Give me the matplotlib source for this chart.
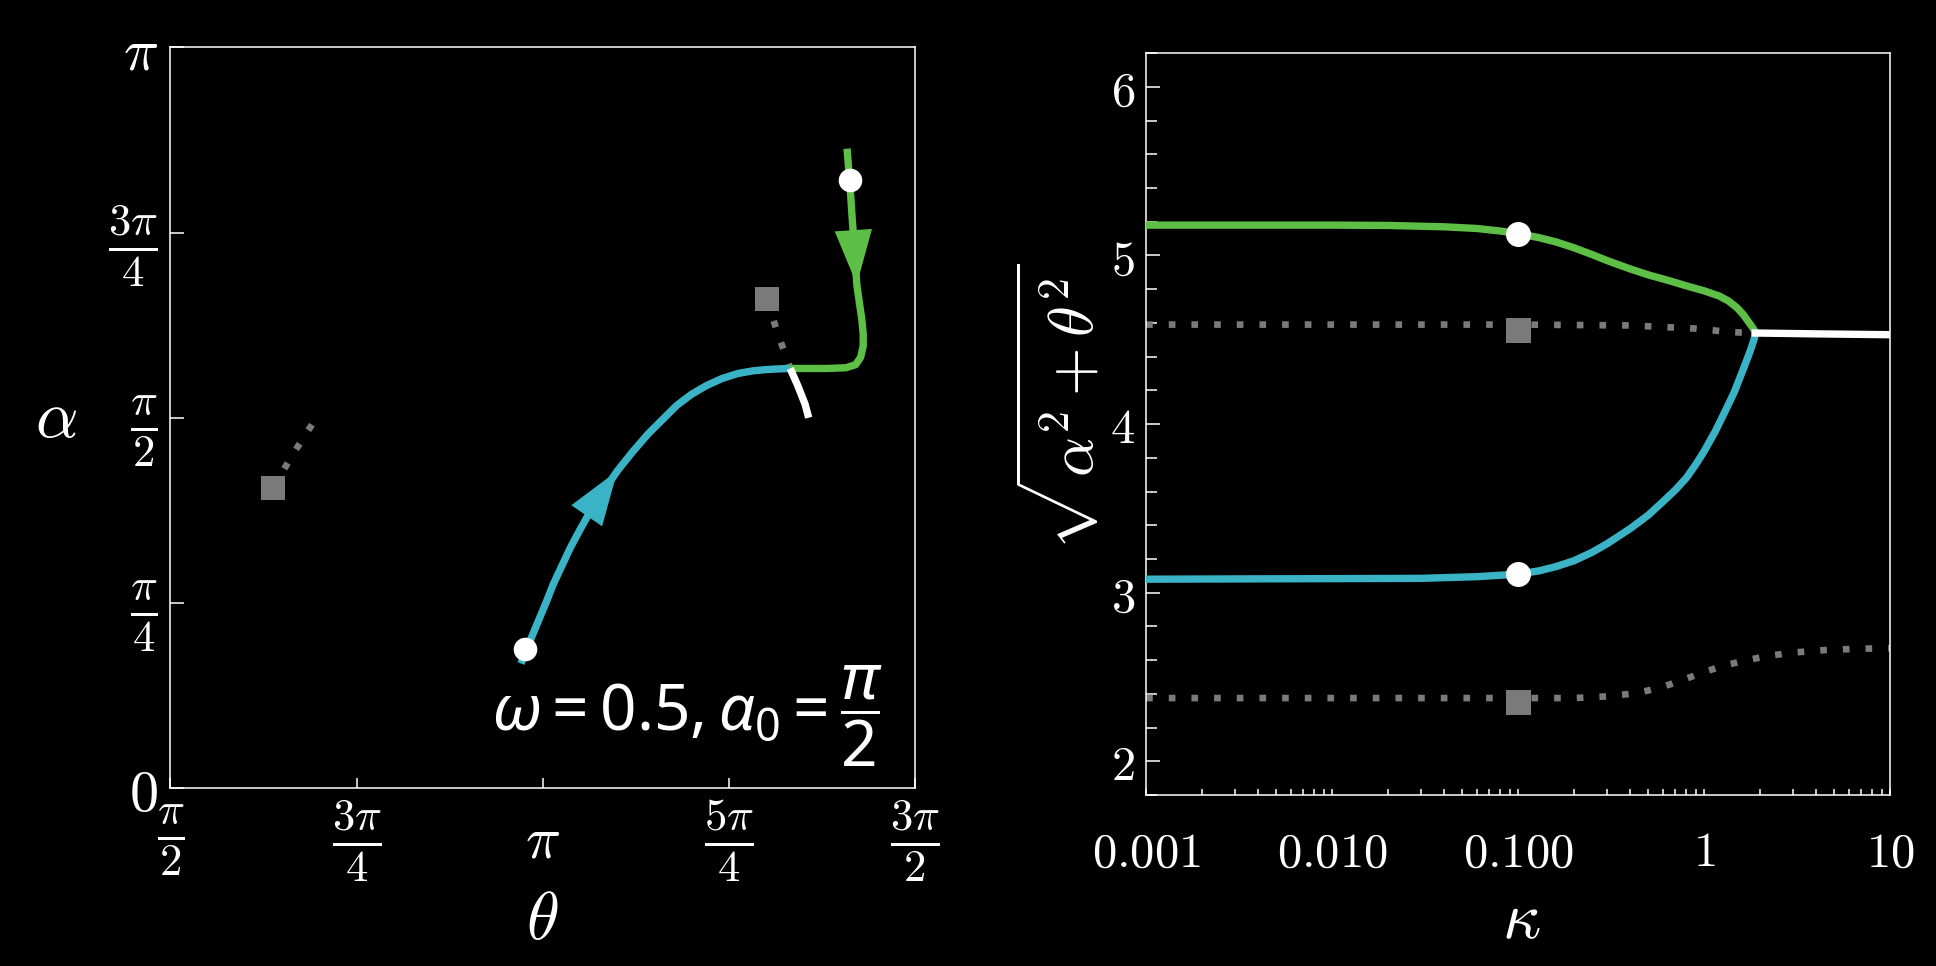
import numpy as np
import matplotlib
matplotlib.use("Agg")
import matplotlib.pyplot as plt
from matplotlib.ticker import FixedLocator, NullFormatter, LogLocator, MultipleLocator

plt.rcParams['mathtext.fontset'] = 'cm'
# used only by the annotation (math_fontfamily='custom')
plt.rcParams['mathtext.rm'] = 'Noto Sans'
plt.rcParams['mathtext.it'] = 'Noto Sans:italic'
plt.rcParams['mathtext.bf'] = 'Noto Sans:bold'

CYAN = '#3ab3c6'
GREEN = '#5dbf45'
GRAY = '#7a7a7a'
FG = 'white'

# ---- left panel: trajectories in (theta, alpha) ----
theta_cyan = [3.050, 3.077, 3.103, 3.129, 3.155, 3.186, 3.222, 3.259, 3.301, 3.342, 3.389, 3.457,
              3.519, 3.587, 3.650, 3.707, 3.769, 3.832, 3.900, 3.967, 4.030, 4.082, 4.134, 4.186]
alpha_cyan = [0.529, 0.597, 0.660, 0.723, 0.785, 0.864, 0.942, 1.021, 1.100, 1.173, 1.246, 1.346,
              1.424, 1.503, 1.566, 1.623, 1.670, 1.707, 1.738, 1.759, 1.770, 1.775, 1.778, 1.780]

theta_green = [4.426, 4.436, 4.442, 4.447, 4.452, 4.457, 4.462, 4.467, 4.478, 4.488, 4.494, 4.494,
               4.483, 4.462, 4.421, 4.343, 4.264, 4.186]
alpha_green = [2.712, 2.581, 2.503, 2.424, 2.356, 2.293, 2.215, 2.136, 2.058, 1.990, 1.927, 1.874,
               1.827, 1.796, 1.783, 1.780, 1.780, 1.780]

theta_white = [4.186, 4.218, 4.249, 4.264]
alpha_white = [1.780, 1.707, 1.628, 1.571]

theta_unst1 = [2.003, 2.090, 2.180]
alpha_unst1 = [1.272, 1.420, 1.560]
theta_unst2 = [4.087, 4.134, 4.166, 4.186]
alpha_unst2 = [2.073, 1.927, 1.838, 1.780]

theta_start = [3.066, 4.437]
alpha_start = [0.592, 2.581]
theta_sq = [2.003, 4.087]
alpha_sq = [1.272, 2.073]

cyan_arrow_idx = 11
green_arrow_idx = 7

# ---- right panel: amplitude vs kappa ----
k_green = [0.001, 0.01, 0.02, 0.04, 0.06, 0.08, 0.1, 0.13, 0.16, 0.2, 0.25, 0.3, 0.4, 0.5,
           0.65, 0.8, 1.0, 1.2, 1.35, 1.5, 1.62, 1.72, 1.8, 1.86, 1.88]
r_green = [5.18, 5.18, 5.178, 5.17, 5.16, 5.145, 5.13, 5.105, 5.08, 5.045, 5.005, 4.97, 4.92, 4.885,
           4.85, 4.82, 4.79, 4.76, 4.73, 4.69, 4.65, 4.61, 4.58, 4.555, 4.54]

k_cyan = [0.001, 0.03, 0.06, 0.1, 0.13, 0.16, 0.2, 0.25, 0.3, 0.4, 0.5, 0.6, 0.7, 0.8, 0.9,
          1.0, 1.15, 1.3, 1.45, 1.6, 1.72, 1.8, 1.86, 1.88]
r_cyan = [3.08, 3.085, 3.095, 3.11, 3.13, 3.155, 3.19, 3.24, 3.29, 3.38, 3.46, 3.54, 3.61, 3.68, 3.76,
          3.84, 3.96, 4.08, 4.19, 4.31, 4.40, 4.46, 4.51, 4.54]

k_white = [1.88, 4.0, 10.0]
r_white = [4.54, 4.535, 4.53]

k_upper = [0.001, 0.1, 0.4, 0.88, 1.4, 1.88]
r_upper = [4.59, 4.59, 4.585, 4.567, 4.545, 4.54]

k_lower = [0.001, 0.2, 0.3, 0.4, 0.5, 0.65, 0.8, 1.0, 1.3, 1.7, 2.2, 3.0, 4.5, 7.0, 10.0]
r_lower = [2.375, 2.375, 2.385, 2.40, 2.42, 2.455, 2.49, 2.53, 2.57, 2.60, 2.625, 2.645, 2.66, 2.668, 2.67]

k_mark = [0.1, 0.1]
r_dots = [5.13, 3.11]
r_squares = [4.555, 2.35]

xt_left = [np.pi / 2, 3 * np.pi / 4, np.pi, 5 * np.pi / 4, 3 * np.pi / 2]
xt_left_lab = [r'$\frac{\pi}{2}$', r'$\frac{3\pi}{4}$', r'$\pi$', r'$\frac{5\pi}{4}$', r'$\frac{3\pi}{2}$']
yt_left = [0, np.pi / 4, np.pi / 2, 3 * np.pi / 4, np.pi]
yt_left_lab = [r'$0$', r'$\frac{\pi}{4}$', r'$\frac{\pi}{2}$', r'$\frac{3\pi}{4}$', r'$\pi$']
xt_right = [0.001, 0.01, 0.1, 1, 10]
xt_right_lab = [r'$0.001$', r'$0.010$', r'$0.100$', r'$1$', r'$10$']
yt_right = [2, 3, 4, 5, 6]

LW = 5.3
DOTS = (0, (1, 2.4))

fig = plt.figure(figsize=(19.36, 9.66), dpi=100, facecolor='black')
ax1 = fig.add_axes([0.088, 0.184, 0.3846, 0.767])
ax2 = fig.add_axes([0.592, 0.177, 0.3844, 0.768])

for ax in (ax1, ax2):
    ax.set_facecolor('black')
    for s in ax.spines.values():
        s.set_color(FG)
        s.set_linewidth(1.1)

# left panel
ax1.plot(theta_unst1, alpha_unst1, color=GRAY, lw=4.8, ls=DOTS, zorder=2)
ax1.plot(theta_unst2, alpha_unst2, color=GRAY, lw=4.8, ls=DOTS, zorder=2)
ax1.plot(theta_cyan, alpha_cyan, color=CYAN, lw=LW, solid_capstyle='butt', zorder=3)
ax1.plot(theta_green, alpha_green, color=GREEN, lw=LW, solid_capstyle='butt', zorder=3)
ax1.plot(theta_white, alpha_white, color=FG, lw=LW, solid_capstyle='butt', zorder=3)
ax1.plot(theta_sq, alpha_sq, 's', color=GRAY, ms=17, mew=0, zorder=4)
ax1.plot(theta_start, alpha_start, 'o', color=FG, ms=17, mew=0, zorder=5)

for th, al, i, c in ((theta_cyan, alpha_cyan, cyan_arrow_idx, CYAN),
                     (theta_green, alpha_green, green_arrow_idx, GREEN)):
    ax1.annotate('', xy=(th[i], al[i]), xytext=(th[i - 1], al[i - 1]),
                 arrowprops=dict(arrowstyle='-|>,head_length=0.7,head_width=0.24',
                                 color=c, lw=0, shrinkA=0, shrinkB=0, mutation_scale=56),
                 zorder=4)

ax1.set_xlim(np.pi / 2, 3 * np.pi / 2)
ax1.set_ylim(0, np.pi)
ax1.set_xticks(xt_left, xt_left_lab)
ax1.set_yticks(yt_left, yt_left_lab)
ax1.tick_params(axis='both', direction='in', colors=FG, width=1.1)
ax1.tick_params(axis='y', length=10, pad=9)
ax1.tick_params(axis='x', length=7.5, pad=38)
for lbl in ax1.get_xticklabels() + ax1.get_yticklabels():
    lbl.set_fontsize(46 if 'frac' in lbl.get_text() else 42)
for lbl in ax1.get_xticklabels():
    lbl.set_verticalalignment('center')

ax1.set_xlabel(r'$\theta$', fontsize=48, color=FG, va='center')
ax1.xaxis.set_label_coords(0.5, -0.178)
ax1.set_ylabel(r'$\alpha$', fontsize=48, color=FG, rotation=0, va='center', ha='center')
ax1.yaxis.set_label_coords(-0.154, 0.5)

ax1.text(0.957, 0.097, r'$\omega = 0.5, \alpha_0 = \dfrac{\pi}{2}$', transform=ax1.transAxes,
         ha='right', va='center', fontsize=46, color=FG, math_fontfamily='custom')

# right panel
ax2.set_xscale('log')
ax2.plot(k_upper, r_upper, color=GRAY, lw=4.8, ls=DOTS, zorder=2)
ax2.plot(k_lower, r_lower, color=GRAY, lw=4.8, ls=DOTS, zorder=2)
ax2.plot(k_green, r_green, color=GREEN, lw=LW, zorder=3)
ax2.plot(k_cyan, r_cyan, color=CYAN, lw=LW, zorder=3)
ax2.plot(k_white, r_white, color=FG, lw=LW, zorder=3)
ax2.plot(k_mark, r_squares, 's', color=GRAY, ms=18, mew=0, zorder=4)
ax2.plot(k_mark, r_dots, 'o', color=FG, ms=18, mew=0, zorder=5)

ax2.set_xlim(0.001, 10)
ax2.set_ylim(1.8, 6.2)
ax2.xaxis.set_major_locator(FixedLocator(xt_right))
ax2.set_xticklabels(xt_right_lab)
ax2.xaxis.set_minor_locator(LogLocator(base=10, subs=np.arange(2, 10)))
ax2.xaxis.set_minor_formatter(NullFormatter())
ax2.set_yticks(yt_right, [f'${v}$' for v in yt_right])
ax2.yaxis.set_minor_locator(MultipleLocator(0.2))
ax2.tick_params(axis='both', which='both', direction='in', colors=FG, width=1.1, labelsize=35)
ax2.tick_params(axis='y', which='major', length=10, pad=8)
ax2.tick_params(axis='y', which='minor', length=8)
ax2.tick_params(axis='x', which='both', length=4.5, pad=24)

ax2.set_xlabel(r'$\kappa$', fontsize=48, color=FG, va='center')
ax2.xaxis.set_label_coords(0.504, -0.168)
ax2.set_ylabel(r'$\sqrt{\alpha^2+\theta^2}$', fontsize=45, color=FG, va='center')
ax2.yaxis.set_label_coords(-0.113, 0.523)

fig.savefig('out.png', dpi=100, facecolor='black')
